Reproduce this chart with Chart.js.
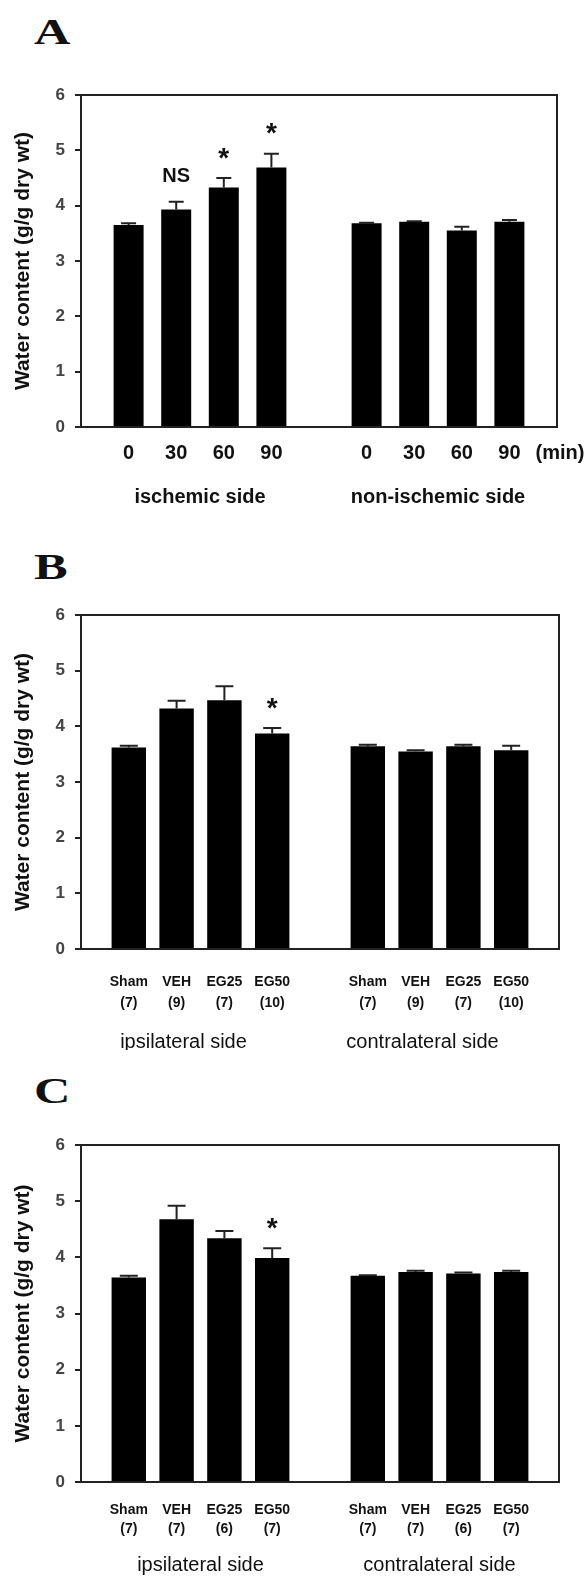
<!DOCTYPE html>
<html>
<head>
<meta charset="utf-8">
<script src="https://cdn.jsdelivr.net/npm/chart.js@4.4.1/dist/chart.umd.min.js"></script>
<style>
  body { margin: 0; background: #fff; }
  #page { position: relative; width: 588px; height: 1582px; overflow: hidden; }
  .panel { position: absolute; left: 0; }
  .letter {
    position: absolute; left: 34px;
    font: bold 36px 'Liberation Serif', 'Times New Roman', serif;
    line-height: 1; color: #111;
    transform: scaleX(1.4); transform-origin: left top;
  }
</style>
</head>
<body>
<div id="page">
  <div class="letter" style="top:14px">A</div>
  <canvas id="chartA" class="panel" width="588" height="525" style="top:0px"></canvas>
  <div class="letter" style="top:549px">B</div>
  <canvas id="chartB" class="panel" width="588" height="525" style="top:525px"></canvas>
  <div class="letter" style="top:1073px">C</div>
  <canvas id="chartC" class="panel" width="588" height="532" style="top:1050px"></canvas>
</div>
<script>
// Panel A - time course after ischemia
const timeLabels = ['0', '30', '60', '90'];
const ischemicMean = [3.65, 3.93, 4.33, 4.69];
const ischemicErr = [0.03, 0.14, 0.17, 0.25];
const nonIschemicMean = [3.68, 3.71, 3.55, 3.71];
const nonIschemicErr = [0.01, 0.01, 0.07, 0.03];
const marksA = ['', 'NS', '*', '*'];

// Panel B - treatment groups
const groupNames = ['Sham', 'VEH', 'EG25', 'EG50'];
const countsB = ['(7)', '(9)', '(7)', '(10)'];
const ipsiMeanB = [3.62, 4.32, 4.47, 3.87];
const ipsiErrB = [0.03, 0.14, 0.25, 0.10];
const contraMeanB = [3.64, 3.55, 3.64, 3.57];
const contraErrB = [0.03, 0.02, 0.03, 0.08];
const marksB = ['', '', '', '*'];

// Panel C - treatment groups
const countsC = ['(7)', '(7)', '(6)', '(7)'];
const ipsiMeanC = [3.64, 4.68, 4.34, 3.99];
const ipsiErrC = [0.03, 0.24, 0.13, 0.17];
const contraMeanC = [3.67, 3.74, 3.71, 3.74];
const contraErrC = [0.01, 0.02, 0.02, 0.02];
const marksC = ['', '', '', '*'];

const noMarks = ['', '', '', ''];
const yTitle = 'Water content (g/g dry wt)';
const sans = "'Liberation Sans', Arial, sans-serif";

// two groups of four bars on an 11 slot axis (empty slot at each end and in the middle)
function slots(left, right, gap) {
    return [gap, ...left, gap, ...right, gap];
}

function twoLine(names, counts) {
    return names.map((n, i) => [n, counts[i]]);
}

// frame, error bars, significance marks, unit and group captions
const panelExtras = {
    id: 'panelExtras',
    afterDatasetsDraw(chart, args, opts) {
        const ctx = chart.ctx;
        const x = chart.scales.x;
        const y = chart.scales.y;
        const area = chart.chartArea;
        const meta = chart.getDatasetMeta(0);
        const means = chart.data.datasets[0].data;

        ctx.save();
        ctx.strokeStyle = '#222';
        ctx.lineWidth = 2;
        ctx.beginPath();
        ctx.moveTo(area.left, area.top);
        ctx.lineTo(area.right, area.top);
        ctx.lineTo(area.right, area.bottom);
        ctx.stroke();

        opts.errors.forEach((err, i) => {
            if (err == null || means[i] == null) return;
            const bx = meta.data[i].x;
            const base = y.getPixelForValue(means[i]);
            const top = y.getPixelForValue(means[i] + err);
            ctx.beginPath();
            ctx.moveTo(bx, base);
            ctx.lineTo(bx, top);
            ctx.moveTo(bx - opts.cap / 2, top);
            ctx.lineTo(bx + opts.cap / 2, top);
            ctx.stroke();
        });

        ctx.fillStyle = '#111';
        ctx.textAlign = 'center';
        ctx.textBaseline = 'middle';
        opts.marks.forEach((m, i) => {
            if (!m) return;
            const bx = meta.data[i].x;
            const top = y.getPixelForValue(means[i] + opts.errors[i]);
            if (m === '*') {
                ctx.font = 'bold 28px ' + sans;
                ctx.fillText(m, bx, top - 25 + 6);
            } else {
                ctx.font = 'bold 20px ' + sans;
                ctx.fillText(m, bx, top - 25);
            }
        });

        // unit sits on the last (empty) slot of the category axis
        if (opts.unit) {
            ctx.font = 'bold 20px ' + sans;
            ctx.fillText(opts.unit, x.getPixelForValue(10) + 3, area.bottom + opts.tickPad + 12);
        }

        ctx.font = opts.groupFont;
        opts.groups.forEach((g, k) => {
            ctx.fillText(g, x.getPixelForValue(2.5 + 5 * k) + opts.groupShift, area.bottom + opts.groupGap);
        });
        ctx.restore();
    }
};

function makePanel(id, p) {
    return new Chart(document.getElementById(id), {
        type: 'bar',
        data: {
            labels: p.labels,
            datasets: [{
                data: p.means,
                backgroundColor: '#000',
                borderWidth: 0,
                categoryPercentage: 1,
                barPercentage: p.barPct
            }]
        },
        options: {
            responsive: false,
            animation: false,
            devicePixelRatio: 1,
            layout: { padding: { top: p.padTop, left: 11, right: p.padRight, bottom: 0 } },
            scales: {
                x: {
                    offset: false,
                    grid: { display: false, drawTicks: false },
                    border: { color: '#222', width: 2 },
                    ticks: {
                        autoSkip: false,
                        maxRotation: 0,
                        padding: p.tickPad,
                        color: '#111',
                        font: p.tickFont
                    },
                    afterFit(scale) { scale.height = p.xHeight; }
                },
                y: {
                    min: 0,
                    max: 6,
                    ticks: {
                        stepSize: 1,
                        padding: 10,
                        color: '#444',
                        font: { family: sans, size: 17, weight: 'bold' }
                    },
                    grid: { drawOnChartArea: false, tickLength: 6, color: '#222', lineWidth: 2 },
                    border: { color: '#222', width: 2 },
                    title: {
                        display: true,
                        text: yTitle,
                        color: '#111',
                        padding: 0,
                        font: { family: sans, size: 21, weight: 'bold' }
                    },
                    afterFit(scale) { scale.width = 70; }
                }
            },
            plugins: {
                legend: { display: false },
                tooltip: { enabled: false },
                panelExtras: {
                    errors: p.errors,
                    marks: p.marks,
                    cap: p.cap,
                    unit: p.unit,
                    tickPad: p.tickPad,
                    groups: p.groups,
                    groupShift: p.groupShift,
                    groupGap: p.groupGap,
                    groupFont: p.groupFont
                }
            }
        },
        plugins: [panelExtras]
    });
}

makePanel('chartA', {
    labels: slots(timeLabels, timeLabels, ''),
    means: slots(ischemicMean, nonIschemicMean, null),
    errors: slots(ischemicErr, nonIschemicErr, null),
    marks: slots(marksA, noMarks, ''),
    unit: '(min)',
    groups: ['ischemic side', 'non-ischemic side'],
    barPct: 0.63, cap: 15,
    padTop: 95, padRight: 31, xHeight: 98, tickPad: 14,
    tickFont: { family: sans, size: 20, weight: 'bold' },
    groupShift: 0, groupGap: 70, groupFont: 'bold 20px ' + sans
});

makePanel('chartB', {
    labels: slots(twoLine(groupNames, countsB), twoLine(groupNames, countsB), ''),
    means: slots(ipsiMeanB, contraMeanB, null),
    errors: slots(ipsiErrB, contraErrB, null),
    marks: slots(marksB, noMarks, ''),
    unit: '',
    groups: ['ipsilateral side', 'contralateral side'],
    barPct: 0.72, cap: 18,
    padTop: 90, padRight: 29, xHeight: 101, tickPad: 23,
    tickFont: { family: sans, size: 14, weight: 'bold', lineHeight: 1.5 },
    groupShift: -17, groupGap: 93, groupFont: '20px ' + sans
});

makePanel('chartC', {
    labels: slots(twoLine(groupNames, countsC), twoLine(groupNames, countsC), ''),
    means: slots(ipsiMeanC, contraMeanC, null),
    errors: slots(ipsiErrC, contraErrC, null),
    marks: slots(marksC, noMarks, ''),
    unit: '',
    groups: ['ipsilateral side', 'contralateral side'],
    barPct: 0.72, cap: 18,
    padTop: 95, padRight: 29, xHeight: 100, tickPad: 19,
    tickFont: { family: sans, size: 14, weight: 'bold', lineHeight: 1.35 },
    groupShift: 0, groupGap: 83, groupFont: '20px ' + sans
});
</script>
</body>
</html>
